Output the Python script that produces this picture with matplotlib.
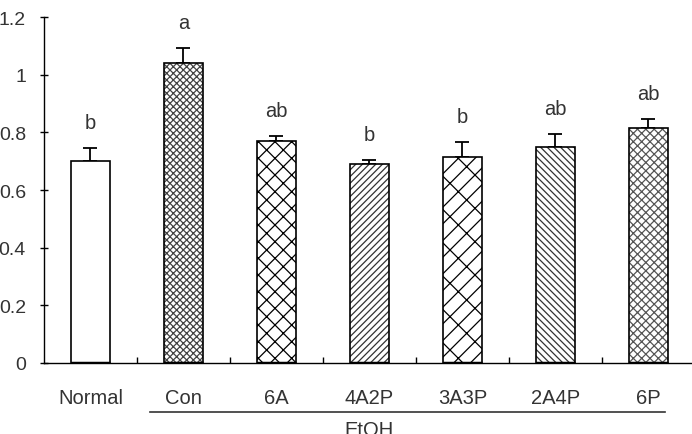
import numpy as np
import matplotlib.pyplot as plt

groups = ['Normal', 'Con', '6A', '4A2P', '3A3P', '2A4P', '6P']
means = [0.70, 1.04, 0.77, 0.69, 0.715, 0.749, 0.816]
errs = [0.046, 0.053, 0.017, 0.014, 0.052, 0.045, 0.030]
letters = ['b', 'a', 'ab', 'b', 'b', 'ab', 'ab']
yticks = [0, 0.2, 0.4, 0.6, 0.8, 1.0, 1.2]
ytick_labels = ['0', '0.2', '0.4', '0.6', '0.8', '1', '1.2']
etoh_label = 'EtOH'

hatches = ['', 'xxxxx', 'xx', '/////', '//\\', '\\\\\\\\\\', 'xxxx']
hatch_cols = ['black', '#444444', 'black', '#333333', 'black', '#333333', '#555555']

plt.rcParams['font.family'] = ['Liberation Sans', 'DejaVu Sans']
plt.rcParams['hatch.linewidth'] = 0.9
txt = '#333333'
fs = 14.5

fig = plt.figure(figsize=(6.92, 4.35), dpi=100)
ax = fig.add_axes([44/692, 71/435, 651/692, 346/435])

x = np.arange(len(groups))
w = 0.41
for i in range(len(groups)):
    ax.bar(x[i], means[i], w, color='white', hatch=hatches[i],
           edgecolor=hatch_cols[i], linewidth=0, zorder=2)
ax.bar(x, means, w, fill=False, edgecolor='black', linewidth=1.2, zorder=3)
ax.hlines(np.zeros(len(x)), x - w/2, x + w/2, color='black', linewidth=2.5, zorder=4)
ax.errorbar(x, means, yerr=[np.zeros(len(errs)), errs], fmt='none',
            ecolor='black', elinewidth=1.3, capsize=5, capthick=1.3, zorder=1)

for i in range(len(groups)):
    ax.text(x[i], means[i] + errs[i] + 0.055, letters[i], ha='center', va='bottom',
            fontsize=fs, color=txt)

ax.set_xlim(-0.5, len(groups) - 0.5)
ax.set_ylim(0, 1.2)
ax.spines['top'].set_visible(False)
ax.spines['right'].set_visible(False)
ax.spines['left'].set_linewidth(1.0)
ax.spines['bottom'].set_linewidth(1.0)

ax.set_yticks(yticks)
ax.set_yticklabels(ytick_labels)
ax.tick_params(axis='y', direction='inout', length=6, width=1, pad=10,
               labelsize=14, labelcolor=txt)
ax.set_xticks(x)
ax.set_xticklabels(groups)
ax.tick_params(axis='x', length=0, pad=18, labelsize=fs, labelcolor=txt)
ax.set_xticks(x[:-1] + 0.5, minor=True)
ax.tick_params(axis='x', which='minor', direction='in', length=4, width=1)

# EtOH group bracket
tr = ax.get_xaxis_transform()
ax.plot([0.64, 6.18], [-0.1416, -0.1416], transform=tr, color='#333333',
        linewidth=1.2, clip_on=False)
ax.text(3.0, -0.165, etoh_label, transform=tr, ha='center', va='top',
        fontsize=fs, color=txt, clip_on=False)

fig.savefig('out.png', dpi=100)
